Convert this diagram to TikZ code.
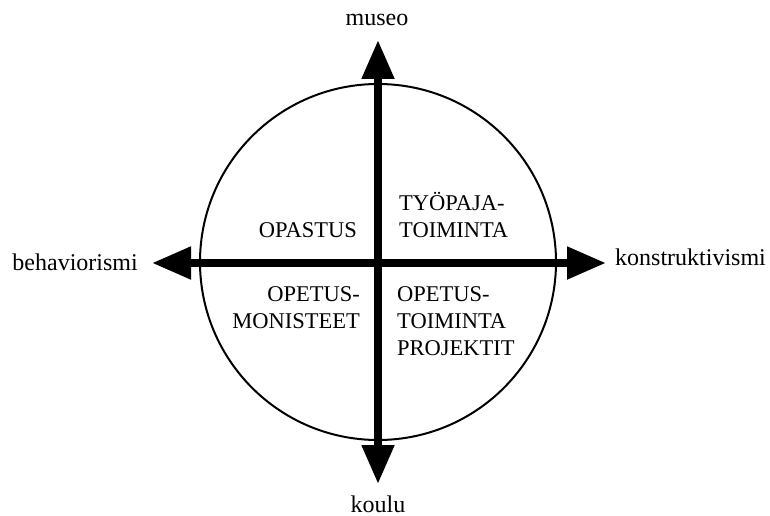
\documentclass[tikz,border=0pt]{standalone}
\usepackage{fontspec}
\setmainfont{Liberation Serif}
\usetikzlibrary{arrows.meta}
\begin{document}
\begin{tikzpicture}[x=1pt,y=-1pt,
  axislabel/.style={font=\fontsize{24}{28}\selectfont, inner sep=0pt},
  quad/.style={font=\fontsize{22.5}{27}\selectfont, inner sep=0pt},
  dblaxis/.style={line width=8pt, {Triangle[length=39pt,width=31pt]}-{Triangle[length=39pt,width=31pt]}}]
\useasboundingbox (0,0) rectangle (770,516);
\coordinate (c) at (378,262);
\draw[line width=2pt] (c) circle[radius=178];
\coordinate (topTip) at (378,40);
\coordinate (botTip) at (378,484);
\coordinate (leftTip) at (152,263);
\coordinate (rightTip) at (606,263);
\draw[dblaxis] (topTip) -- (botTip);
\draw[dblaxis] (leftTip) -- (rightTip);
\node[axislabel, anchor=base] (museo) at (377,26) {museo};
\node[axislabel, anchor=base] (koulu) at (378,512) {koulu};
\node[axislabel, anchor=base east] (beh) at (138,270) {behaviorismi};
\node[axislabel, anchor=base west] (kon) at (615,265) {konstruktivismi};
\node[quad, anchor=base east] (opastus) at (357,237) {OPASTUS};
\node[quad, anchor=base west, align=left] (tyo) at (399,237) {TYÖPAJA-\\TOIMINTA};
\node[quad, anchor=base east, align=right] (mon) at (360,328) {OPETUS-\\MONISTEET};
\node[quad, anchor=base west, align=left] (proj) at (397,355) {OPETUS-\\TOIMINTA\\PROJEKTIT};
\end{tikzpicture}
\end{document}
